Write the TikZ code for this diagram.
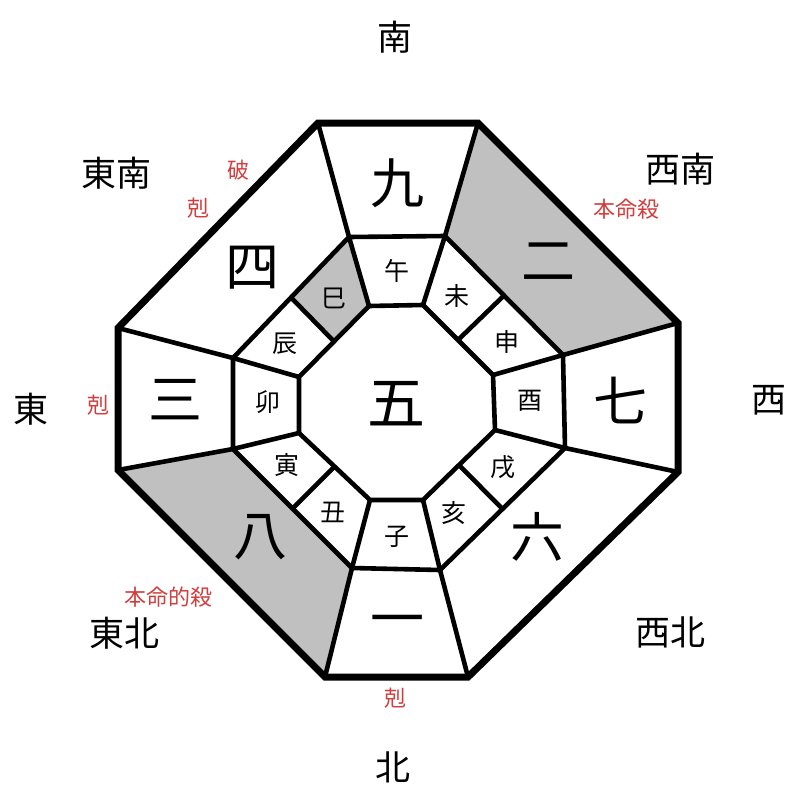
\documentclass[tikz,border=0pt]{standalone}
\usepackage{fontspec}
\newfontfamily\jp{Noto Sans CJK JP}
\usetikzlibrary{calc}
\definecolor{redlbl}{RGB}{208,62,62}
\definecolor{shadegray}{RGB}{192,192,192}
\begin{document}
\begin{tikzpicture}[x=1pt,y=-1pt,
  thickline/.style={line width=7pt,line join=miter},
  cellline/.style={line width=4.6pt,line join=miter},
  bignum/.style={font=\jp\fontsize{54}{54}\selectfont,inner sep=0pt},
  centernum/.style={font=\jp\fontsize{58}{58}\selectfont,inner sep=0pt},
  zodiac/.style={font=\jp\fontsize{25}{25}\selectfont,inner sep=0pt},
  direction/.style={font=\jp\fontsize{35}{35}\selectfont,inner sep=0pt},
  redmark/.style={font=\jp\fontsize{22}{22}\selectfont,inner sep=0pt,text=redlbl}
]
\useasboundingbox[fill=white] (0,0) rectangle (800,800);
% outer octagon
\coordinate (O1) at (318,123); \coordinate (O2) at (478,123);
\coordinate (O3) at (678,323); \coordinate (O4) at (678,472);
\coordinate (O5) at (468,677); \coordinate (O6) at (325,677);
\coordinate (O7) at (118,470); \coordinate (O8) at (118,328);
% middle octagon
\coordinate (M1) at (349,237); \coordinate (M2) at (445,236);
\coordinate (M3) at (563,355); \coordinate (M4) at (565,448);
\coordinate (M5) at (440,570); \coordinate (M6) at (352,568);
\coordinate (M7) at (233,449); \coordinate (M8) at (233,358);
% inner octagon
\coordinate (I1) at (369,306); \coordinate (I2) at (423,305);
\coordinate (I3) at (493,375); \coordinate (I4) at (495,430);
\coordinate (I5) at (423,500); \coordinate (I6) at (370,500);
\coordinate (I7) at (299,433); \coordinate (I8) at (299,377);
% midpoints of diagonal edges
\coordinate (MA) at ($(M2)!0.5!(M3)$); \coordinate (IA) at ($(I2)!0.5!(I3)$);
\coordinate (MB) at ($(M4)!0.5!(M5)$); \coordinate (IB) at ($(I4)!0.5!(I5)$);
\coordinate (MC) at ($(M6)!0.5!(M7)$); \coordinate (IC) at ($(I6)!0.5!(I7)$);
\coordinate (MD) at ($(M8)!0.5!(M1)$); \coordinate (ID) at ($(I8)!0.5!(I1)$);
% shaded cells
\fill[shadegray] (O2) -- (O3) -- (M3) -- (M2) -- cycle;
\fill[shadegray] (O6) -- (O7) -- (M7) -- (M6) -- cycle;
\fill[shadegray] (M1) -- (I1) -- (ID) -- (MD) -- cycle;
% ring lines
\draw[cellline] (M1) -- (M2) -- (M3) -- (M4) -- (M5) -- (M6) -- (M7) -- (M8) -- cycle;
\draw[cellline] (I1) -- (I2) -- (I3) -- (I4) -- (I5) -- (I6) -- (I7) -- (I8) -- cycle;
\foreach \k in {1,...,8}{
  \draw[cellline] (O\k) -- (M\k);
  \draw[cellline] (M\k) -- (I\k);
}
\foreach \k in {A,B,C,D}{
  \draw[cellline] (M\k) -- (I\k);
}
\draw[thickline] (O1) -- (O2) -- (O3) -- (O4) -- (O5) -- (O6) -- (O7) -- (O8) -- cycle;
% big numbers
\node[bignum] (n9) at (397,183) {九};
\node[bignum] (n2) at (548,262) {二};
\node[bignum] (n7) at (620,400) {七};
\node[bignum] (n6) at (537,537) {六};
\node[bignum] (n1) at (397,627) {一};
\node[bignum] (n8) at (260,537) {八};
\node[bignum] (n3) at (175,400) {三};
\node[bignum] (n4) at (252,268) {四};
\node[centernum] (n5) at (396,404) {五};
% zodiac
\node[zodiac] (zuma) at (397,271) {午};
\node[zodiac] (zhitsuji) at (457,296) {未};
\node[zodiac] (zsaru) at (507,342) {申};
\node[zodiac] (ztori) at (530,401) {酉};
\node[zodiac] (zinu) at (503,467) {戌};
\node[zodiac] (zi) at (454,513) {亥};
\node[zodiac] (zne) at (397,537) {子};
\node[zodiac] (zushi) at (333,512) {丑};
\node[zodiac] (ztora) at (287,465) {寅};
\node[zodiac] (zu) at (268,402) {卯};
\node[zodiac] (ztatsu) at (285,344) {辰};
\node[zodiac] (zmi) at (334,298) {巳};
% directions
\node[direction] (dS) at (395,37) {南};
\node[direction] (dN) at (393,767) {北};
\node[direction] (dE) at (31,409) {東};
\node[direction] (dW) at (769,400) {西};
\node[direction] (dSE) at (116,173) {東南};
\node[direction] (dSW) at (680,169) {西南};
\node[direction] (dNE) at (124,633) {東北};
\node[direction] (dNW) at (670,632) {西北};
% red marks
\node[redmark] (rha) at (238,170) {破};
\node[redmark] (rkoku1) at (198,208) {剋};
\node[redmark] (rkoku2) at (98,405) {剋};
\node[redmark] (rkoku3) at (395,698) {剋};
\node[redmark] (rhonmei) at (626,209) {本命殺};
\node[redmark] (rhonmeiteki) at (168,597) {本命的殺};
\end{tikzpicture}
\end{document}
